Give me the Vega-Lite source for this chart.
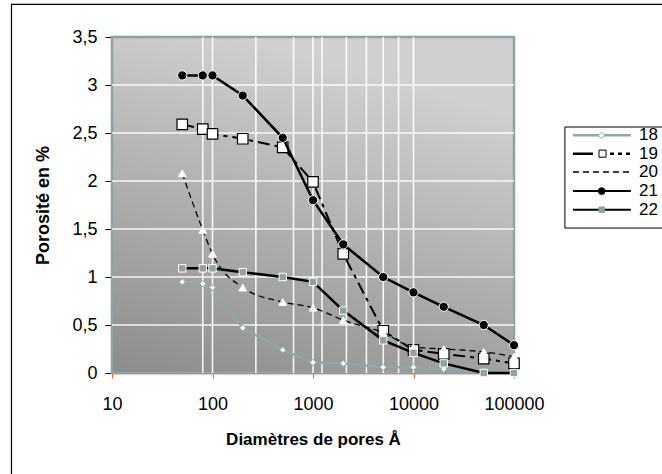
{
  "$schema": "https://vega.github.io/schema/vega-lite/v6.json",
  "width": 402,
  "height": 336,
  "autosize": {"type": "none"},
  "padding": {"left": 112, "top": 37, "right": 148, "bottom": 101},
  "background": "white",
  "config": {
    "view": {"stroke": null},
    "font": "Liberation Sans",
    "axis": {"labelFont": "Liberation Sans", "titleFont": "Liberation Sans", "labelColor": "black", "titleColor": "black", "zindex": 1, "grid": false}
  },
  "datasets": {
    "pores": [
      {"d": 50, "p": 0.95, "s": "18"}, {"d": 80, "p": 0.93, "s": "18"}, {"d": 100, "p": 0.89, "s": "18"}, {"d": 200, "p": 0.47, "s": "18"}, {"d": 500, "p": 0.24, "s": "18"}, {"d": 1000, "p": 0.11, "s": "18"}, {"d": 2000, "p": 0.10, "s": "18"}, {"d": 5000, "p": 0.06, "s": "18"}, {"d": 10000, "p": 0.06, "s": "18"}, {"d": 20000, "p": 0.04, "s": "18"}, {"d": 50000, "p": 0.02, "s": "18"}, {"d": 100000, "p": 0.01, "s": "18"},
      {"d": 50, "p": 2.59, "s": "19"}, {"d": 80, "p": 2.54, "s": "19"}, {"d": 100, "p": 2.49, "s": "19"}, {"d": 200, "p": 2.44, "s": "19"}, {"d": 500, "p": 2.35, "s": "19"}, {"d": 1000, "p": 1.99, "s": "19"}, {"d": 2000, "p": 1.24, "s": "19"}, {"d": 5000, "p": 0.44, "s": "19"}, {"d": 10000, "p": 0.24, "s": "19"}, {"d": 20000, "p": 0.20, "s": "19"}, {"d": 50000, "p": 0.15, "s": "19"}, {"d": 100000, "p": 0.10, "s": "19"},
      {"d": 50, "p": 2.08, "s": "20"}, {"d": 80, "p": 1.49, "s": "20"}, {"d": 100, "p": 1.24, "s": "20"}, {"d": 200, "p": 0.89, "s": "20"}, {"d": 500, "p": 0.74, "s": "20"}, {"d": 1000, "p": 0.68, "s": "20"}, {"d": 2000, "p": 0.55, "s": "20"}, {"d": 5000, "p": 0.42, "s": "20"}, {"d": 10000, "p": 0.27, "s": "20"}, {"d": 20000, "p": 0.25, "s": "20"}, {"d": 50000, "p": 0.22, "s": "20"}, {"d": 100000, "p": 0.17, "s": "20"},
      {"d": 50, "p": 3.1, "s": "21"}, {"d": 80, "p": 3.1, "s": "21"}, {"d": 100, "p": 3.1, "s": "21"}, {"d": 200, "p": 2.89, "s": "21"}, {"d": 500, "p": 2.45, "s": "21"}, {"d": 1000, "p": 1.80, "s": "21"}, {"d": 2000, "p": 1.34, "s": "21"}, {"d": 5000, "p": 1.0, "s": "21"}, {"d": 10000, "p": 0.84, "s": "21"}, {"d": 20000, "p": 0.69, "s": "21"}, {"d": 50000, "p": 0.50, "s": "21"}, {"d": 100000, "p": 0.29, "s": "21"},
      {"d": 50, "p": 1.09, "s": "22"}, {"d": 80, "p": 1.09, "s": "22"}, {"d": 100, "p": 1.09, "s": "22"}, {"d": 200, "p": 1.05, "s": "22"}, {"d": 500, "p": 1.0, "s": "22"}, {"d": 1000, "p": 0.95, "s": "22"}, {"d": 2000, "p": 0.65, "s": "22"}, {"d": 5000, "p": 0.34, "s": "22"}, {"d": 10000, "p": 0.21, "s": "22"}, {"d": 20000, "p": 0.10, "s": "22"}, {"d": 50000, "p": 0.0, "s": "22"}, {"d": 100000, "p": 0.0, "s": "22"}
    ],
    "vgrid": [{"g": 80}, {"g": 100}, {"g": 270}, {"g": 640}, {"g": 1000}, {"g": 1230}, {"g": 2150}, {"g": 3400}, {"g": 5000}, {"g": 7100}, {"g": 10000}],
    "hgrid": [{"h": 0.5}, {"h": 1}, {"h": 1.5}, {"h": 2}, {"h": 2.5}, {"h": 3}]
  },
  "layer": [
    {
      "data": {"values": [{}]},
      "mark": {"type": "rect", "fill": "none", "stroke": "black", "strokeWidth": 1.2, "clip": false},
      "encoding": {
        "x": {"datum": 1, "type": "quantitative", "scale": {"type": "log", "domain": [10, 100000], "nice": false}},
        "x2": {"datum": 5000000},
        "y": {"datum": 3.84, "type": "quantitative", "scale": {"domain": [0, 3.5], "nice": false}},
        "y2": {"datum": -1.5}
      }
    },
    {
      "data": {"values": [{}]},
      "mark": {
        "type": "rect",
        "stroke": "#8aa4a4",
        "strokeWidth": 2.5,
        "color": {"gradient": "linear", "x1": 0, "y1": 1, "x2": 0.35, "y2": 0, "stops": [{"offset": 0, "color": "#8c8c8c"}, {"offset": 1, "color": "#d0d0d0"}]}
      },
      "encoding": {
        "x": {"datum": 10, "type": "quantitative"},
        "x2": {"datum": 100000},
        "y": {"datum": 0, "type": "quantitative"},
        "y2": {"datum": 3.5}
      }
    },
    {
      "data": {"name": "vgrid"},
      "mark": {"type": "rule", "color": "white", "strokeWidth": 1.6, "opacity": 0.9},
      "encoding": {"x": {"field": "g", "type": "quantitative"}}
    },
    {
      "data": {"name": "hgrid"},
      "mark": {"type": "rule", "color": "white", "strokeWidth": 1.6, "opacity": 0.9},
      "encoding": {"y": {"field": "h", "type": "quantitative"}}
    },
    {
      "data": {"name": "pores"},
      "transform": [{"filter": "datum.s === '18'"}],
      "mark": {"type": "line", "strokeWidth": 2.5, "stroke": "#8fa8a8"},
      "encoding": {
        "x": {
          "field": "d", "type": "quantitative",
          "axis": {"title": "Diamètres de pores Å", "values": [10, 100, 1000, 10000, 100000], "format": "d", "labelFontSize": 18, "titleFontSize": 17, "titleFontWeight": "bold", "domainColor": "#ff5533", "domainWidth": 1.5, "tickColor": "#ff5533", "tickSize": 5, "labelPadding": 17, "titlePadding": 18, "labelFlush": false}
        },
        "y": {
          "field": "p", "type": "quantitative",
          "axis": {"title": "Porosité en %", "values": [0, 0.5, 1, 1.5, 2, 2.5, 3, 3.5], "labelExpr": "replace(toString(datum.value), '.', ',')", "labelFontSize": 18, "titleFontSize": 18, "titleFontWeight": "bold", "domainColor": "black", "domainWidth": 1.5, "tickColor": "black", "tickSize": 7, "labelPadding": 8, "titlePadding": 19, "labelFlush": false}
        }
      }
    },
    {
      "data": {"name": "pores"},
      "transform": [{"filter": "datum.s === '18'"}],
      "mark": {"type": "point", "shape": "diamond", "filled": true, "fill": "white", "stroke": "#8fa8a8", "strokeWidth": 1, "size": 40, "opacity": 1},
      "encoding": {"x": {"field": "d", "type": "quantitative"}, "y": {"field": "p", "type": "quantitative"}}
    },
    {
      "data": {"name": "pores"},
      "transform": [{"filter": "datum.s === '19'"}],
      "mark": {"type": "line", "strokeWidth": 2, "stroke": "black", "strokeDash": [12, 5, 4, 5]},
      "encoding": {"x": {"field": "d", "type": "quantitative"}, "y": {"field": "p", "type": "quantitative"}}
    },
    {
      "data": {"name": "pores"},
      "transform": [{"filter": "datum.s === '19'"}],
      "mark": {"type": "point", "shape": "square", "filled": true, "fill": "white", "stroke": "black", "strokeWidth": 1.2, "size": 110, "opacity": 1},
      "encoding": {"x": {"field": "d", "type": "quantitative"}, "y": {"field": "p", "type": "quantitative"}}
    },
    {
      "data": {"name": "pores"},
      "transform": [{"filter": "datum.s === '20'"}],
      "mark": {"type": "line", "strokeWidth": 1.3, "stroke": "black", "strokeDash": [6, 4], "interpolate": "monotone"},
      "encoding": {"x": {"field": "d", "type": "quantitative"}, "y": {"field": "p", "type": "quantitative"}}
    },
    {
      "data": {"name": "pores"},
      "transform": [{"filter": "datum.s === '20'"}],
      "mark": {"type": "point", "shape": "triangle-up", "filled": true, "fill": "white", "stroke": "white", "strokeWidth": 1, "size": 60, "opacity": 1},
      "encoding": {"x": {"field": "d", "type": "quantitative"}, "y": {"field": "p", "type": "quantitative"}}
    },
    {
      "data": {"name": "pores"},
      "transform": [{"filter": "datum.s === '21'"}],
      "mark": {"type": "line", "strokeWidth": 2.5, "stroke": "black"},
      "encoding": {"x": {"field": "d", "type": "quantitative"}, "y": {"field": "p", "type": "quantitative"}}
    },
    {
      "data": {"name": "pores"},
      "transform": [{"filter": "datum.s === '21'"}],
      "mark": {"type": "point", "shape": "circle", "filled": true, "fill": "black", "stroke": "white", "strokeWidth": 1, "size": 85, "opacity": 1},
      "encoding": {"x": {"field": "d", "type": "quantitative"}, "y": {"field": "p", "type": "quantitative"}}
    },
    {
      "data": {"name": "pores"},
      "transform": [{"filter": "datum.s === '22'"}],
      "mark": {"type": "line", "strokeWidth": 2.5, "stroke": "black"},
      "encoding": {"x": {"field": "d", "type": "quantitative"}, "y": {"field": "p", "type": "quantitative"}}
    },
    {
      "data": {"name": "pores"},
      "transform": [{"filter": "datum.s === '22'"}],
      "mark": {"type": "point", "shape": "square", "filled": true, "fill": "#8fa3a3", "stroke": "white", "strokeWidth": 1, "size": 55, "opacity": 1},
      "encoding": {"x": {"field": "d", "type": "quantitative"}, "y": {"field": "p", "type": "quantitative"}}
    },
    {
      "data": {"values": [{}]},
      "mark": {"type": "rect", "fill": "white", "stroke": "black", "strokeWidth": 1, "clip": false},
      "encoding": {
        "x": {"datum": 321000, "type": "quantitative"},
        "x2": {"datum": 10000000},
        "y": {"datum": 2.5625, "type": "quantitative"},
        "y2": {"datum": 1.51}
      }
    },
    {
      "data": {"values": [{"s": "18"}]},
      "encoding": {"y": {"datum": 2.476, "type": "quantitative"}},
      "layer": [
        {"mark": {"type": "rule", "stroke": "#8fa8a8", "strokeWidth": 2.5, "clip": false}, "encoding": {"x": {"datum": 386000, "type": "quantitative"}, "x2": {"datum": 1455000}}},
        {"mark": {"type": "point", "shape": "diamond", "filled": true, "fill": "white", "stroke": "#8fa8a8", "strokeWidth": 1, "size": 40, "opacity": 1, "clip": false}, "encoding": {"x": {"datum": 745000, "type": "quantitative"}}},
        {"mark": {"type": "text", "align": "left", "baseline": "middle", "fontSize": 17, "font": "Liberation Sans", "color": "black", "clip": false}, "encoding": {"x": {"datum": 1750000, "type": "quantitative"}, "text": {"field": "s"}}}
      ]
    },
    {
      "data": {"values": [{"s": "19"}]},
      "encoding": {"y": {"datum": 2.285, "type": "quantitative"}},
      "layer": [
        {"mark": {"type": "rule", "stroke": "black", "strokeWidth": 2.5, "strokeDash": [20, 17, 4, 4, 4, 4, 4, 100], "clip": false}, "encoding": {"x": {"datum": 386000, "type": "quantitative"}, "x2": {"datum": 1455000}}},
        {"mark": {"type": "point", "shape": "square", "filled": true, "fill": "white", "stroke": "black", "strokeWidth": 1, "size": 50, "opacity": 1, "clip": false}, "encoding": {"x": {"datum": 760000, "type": "quantitative"}}},
        {"mark": {"type": "text", "align": "left", "baseline": "middle", "fontSize": 17, "font": "Liberation Sans", "color": "black", "clip": false}, "encoding": {"x": {"datum": 1750000, "type": "quantitative"}, "text": {"field": "s"}}}
      ]
    },
    {
      "data": {"values": [{"s": "20"}]},
      "encoding": {"y": {"datum": 2.094, "type": "quantitative"}},
      "layer": [
        {"mark": {"type": "rule", "stroke": "black", "strokeWidth": 1.3, "strokeDash": [6, 4], "clip": false}, "encoding": {"x": {"datum": 386000, "type": "quantitative"}, "x2": {"datum": 1455000}}},
        {"mark": {"type": "text", "align": "left", "baseline": "middle", "fontSize": 17, "font": "Liberation Sans", "color": "black", "clip": false}, "encoding": {"x": {"datum": 1750000, "type": "quantitative"}, "text": {"field": "s"}}}
      ]
    },
    {
      "data": {"values": [{"s": "21"}]},
      "encoding": {"y": {"datum": 1.895, "type": "quantitative"}},
      "layer": [
        {"mark": {"type": "rule", "stroke": "black", "strokeWidth": 2, "clip": false}, "encoding": {"x": {"datum": 386000, "type": "quantitative"}, "x2": {"datum": 1455000}}},
        {"mark": {"type": "point", "shape": "circle", "filled": true, "fill": "black", "stroke": "black", "strokeWidth": 1, "size": 45, "opacity": 1, "clip": false}, "encoding": {"x": {"datum": 745000, "type": "quantitative"}}},
        {"mark": {"type": "text", "align": "left", "baseline": "middle", "fontSize": 17, "font": "Liberation Sans", "color": "black", "clip": false}, "encoding": {"x": {"datum": 1750000, "type": "quantitative"}, "text": {"field": "s"}}}
      ]
    },
    {
      "data": {"values": [{"s": "22"}]},
      "encoding": {"y": {"datum": 1.701, "type": "quantitative"}},
      "layer": [
        {"mark": {"type": "rule", "stroke": "black", "strokeWidth": 2, "clip": false}, "encoding": {"x": {"datum": 386000, "type": "quantitative"}, "x2": {"datum": 1455000}}},
        {"mark": {"type": "point", "shape": "square", "filled": true, "fill": "#8fa3a3", "stroke": "#8fa3a3", "strokeWidth": 1, "size": 30, "opacity": 1, "clip": false}, "encoding": {"x": {"datum": 745000, "type": "quantitative"}}},
        {"mark": {"type": "text", "align": "left", "baseline": "middle", "fontSize": 17, "font": "Liberation Sans", "color": "black", "clip": false}, "encoding": {"x": {"datum": 1750000, "type": "quantitative"}, "text": {"field": "s"}}}
      ]
    }
  ]
}
